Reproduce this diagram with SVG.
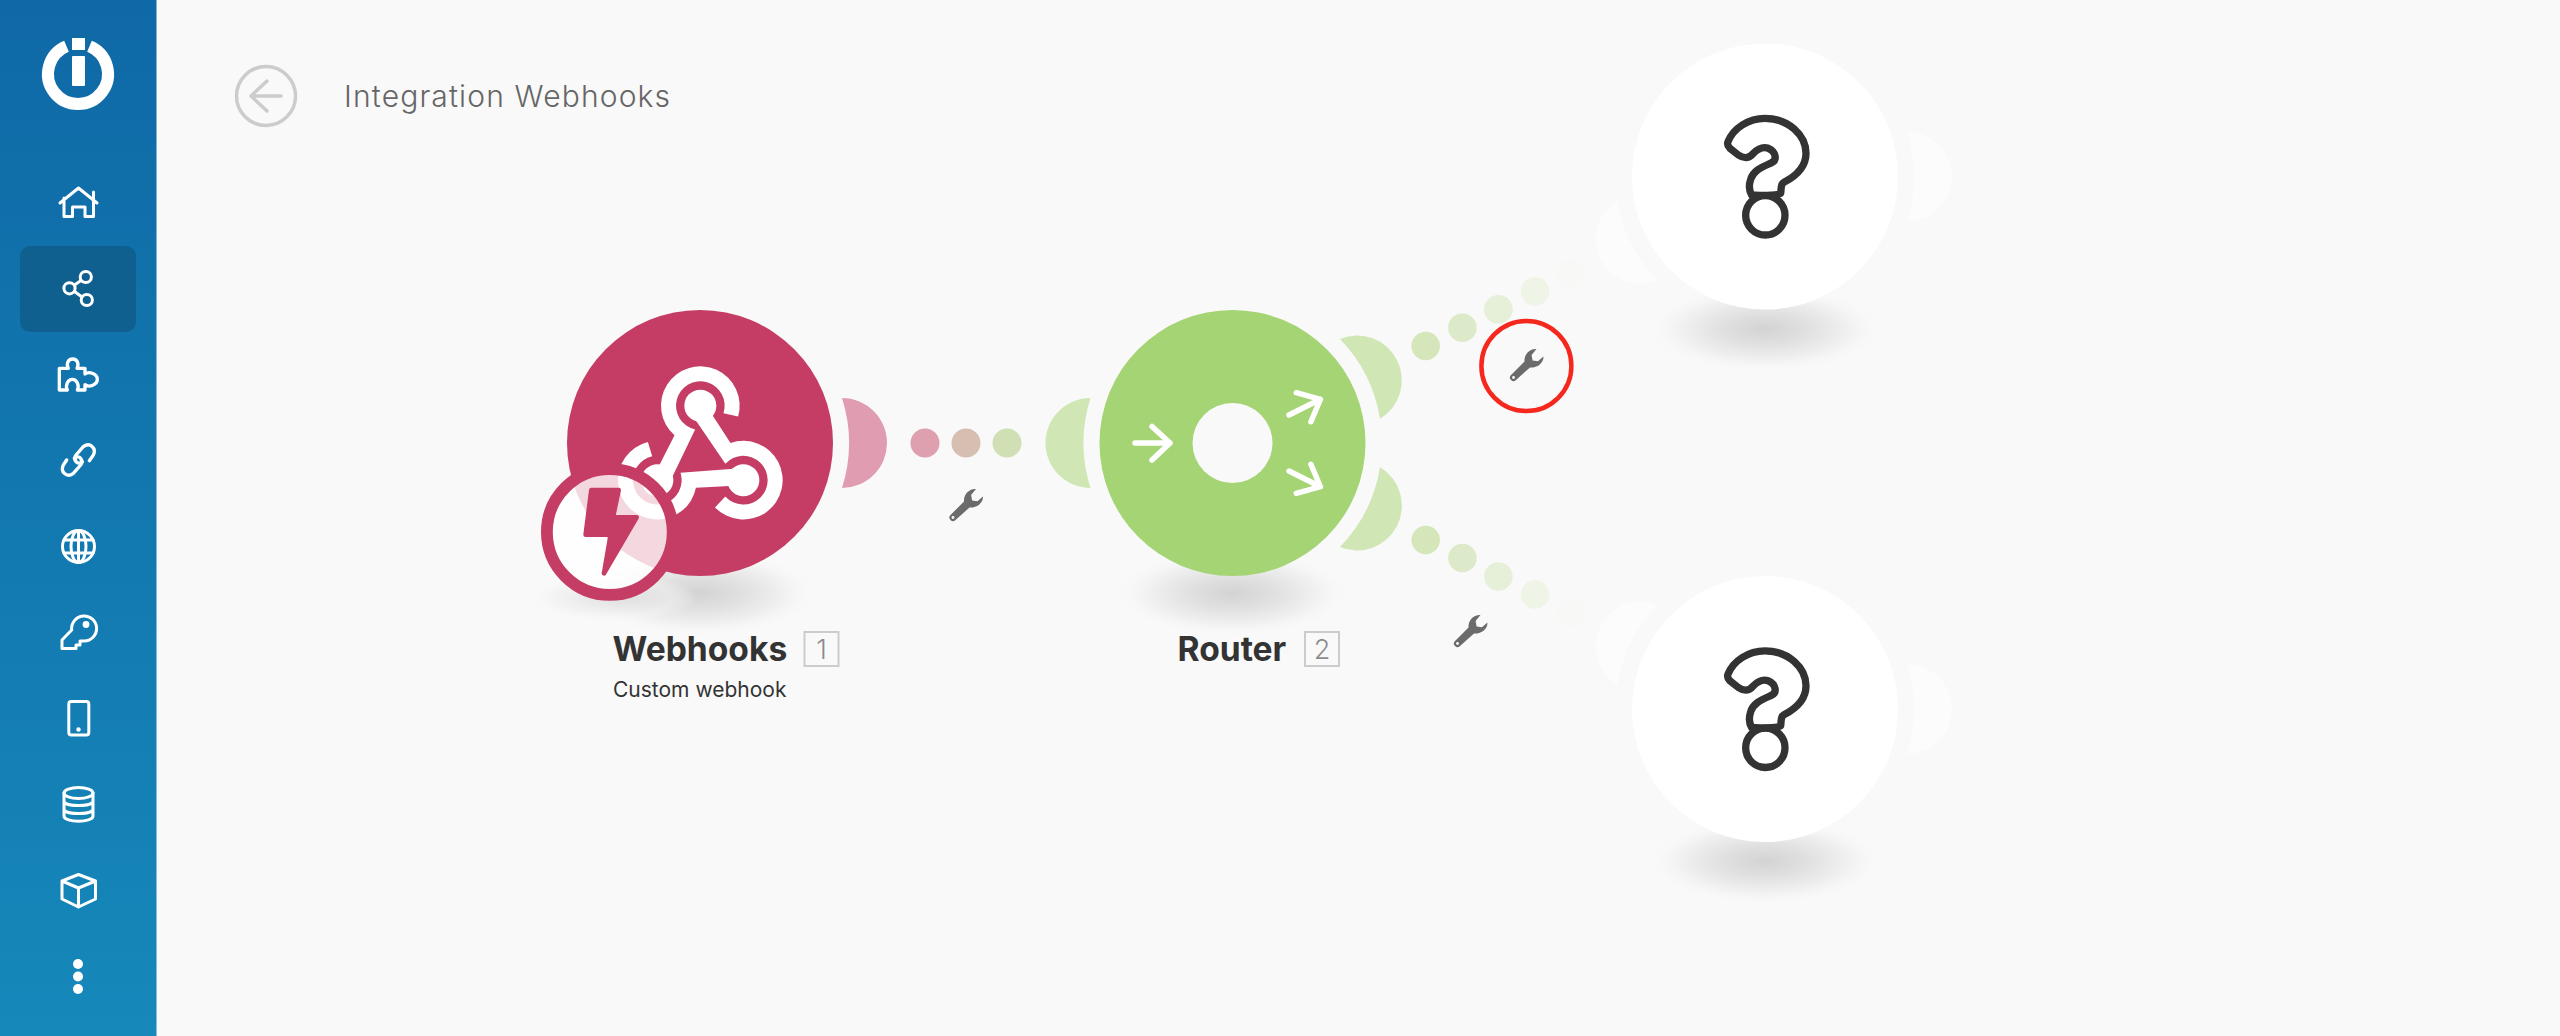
<svg xmlns="http://www.w3.org/2000/svg" xmlns:xlink="http://www.w3.org/1999/xlink" width="2560" height="1036" viewBox="0 0 2560 1036">
<style>
.ic{fill:none;stroke:#fff;stroke-width:3;stroke-linejoin:round;stroke-linecap:round}
.wf{fill:#fff}
.title{font-family:Inter,"Liberation Sans",sans-serif;font-weight:300;font-size:30px;fill:#666;letter-spacing:1.15px}
.name{font-family:Inter,"Liberation Sans",sans-serif;font-weight:700;font-size:33.6px;fill:#333}
.sub{font-family:Inter,"Liberation Sans",sans-serif;font-weight:400;font-size:21px;fill:#333}
.bx{fill:none;stroke:#ccc;stroke-width:2}
.bn{font-family:Inter,"Liberation Sans",sans-serif;font-weight:300;font-size:27px;fill:#8c8c8c;text-anchor:middle}
.arr{fill:none;stroke:#fff;stroke-width:5.5;stroke-linecap:round;stroke-linejoin:round}
.q{fill:none;stroke:#333;stroke-width:22;stroke-linejoin:round}
.gm{fill:#d0e6b5}
.wm{fill:#fcfcfc}
</style>
<defs>
<linearGradient id="side" x1="0" y1="0" x2="0" y2="1"><stop offset="0" stop-color="#0f69a6"/><stop offset="1" stop-color="#1688ba"/></linearGradient>
<radialGradient id="sh"><stop offset="0" stop-color="#d3d3d3"/><stop offset=".35" stop-color="#e0e0e0"/><stop offset=".7" stop-color="#f0f0f0"/><stop offset="1" stop-color="#f9f9f9" stop-opacity="0"/></radialGradient>
<g id="wrench"><path fill="#6b6b6b" d="M16.4-8.6L11-3.8 5.6-4.6 4.6-10 9.5-16C3-16.5-3-11-2.5-3.5L-16 10A3.5 3.5 0 0 0-11 15L3 2.5C10 3 17-2 16.4-8.6Z"/><circle cx="-13.5" cy="12.5" r="1.4" fill="#f9f9f9"/></g>
<path id="hook" fill="#fff" d="M654.4 349.7A118 118 0 1 0 463.6 406.1L405 521 447 551 525.4 388.3A73 73 0 1 1 610.5 339.4Z"/>
<g id="qm"><path class="q" d="M504 365C520 325 565 295 615 295C685 295 738 345 738 400C738 445 705 470 672 487C662 492 664 505 662 520C650 527 590 527 575 525C566 510 568 490 572 478C580 450 610 440 635 428C652 420 648 395 625 385C605 378 590 390 580 400C565 418 550 415 535 405L510 385C503 378 501 372 504 365Z"/><circle class="q" cx="616" cy="586" r="59"/></g>
</defs>
<rect width="2560" height="1036" fill="#f9f9f9"/>
<g id="sidebar">
<rect width="156.5" height="1036" fill="url(#side)"/>
<rect x="20" y="246" width="116" height="86" rx="10" fill="#0f5f8f"/>
<g id="logo"><path fill="none" stroke="#fff" stroke-width="12" d="M66.5 46.3A30 30 0 1 0 89.5 46.3"/><rect class="wf" x="72" y="38" width="13" height="12"/><rect class="wf" x="72" y="56" width="13" height="30" rx="1"/></g>
<path id="icon-home" class="ic" d="M60 203L78.5 188 97 203M64 198V216.5H72.5V207H85V216.5H93.5V198M93.5 192V199"/>
<g id="icon-share" class="ic"><circle cx="85.8" cy="277" r="5.6"/><circle cx="69.5" cy="288.3" r="5.6"/><circle cx="86.8" cy="300" r="5.6"/><path d="M81 280.5L74.5 285M74.5 291.5L82 297"/></g>
<path id="icon-puzzle" class="ic" transform="translate(40 340) scale(.33333)" style="stroke-width:10;stroke-linecap:butt" d="M58 85H85C78 72 84 57 98 57C112 57 118 72 111 85H135V102C148 92 172 102 172 118C172 134 148 144 135 134V150H112C118 138 112 118 97 118C82 118 76 138 82 150H58Z"/>
<g id="icon-link" class="ic" transform="translate(40 340) scale(.33333)" style="stroke-width:10"><path d="M148 362L160 345C170 325 150 305 130 320L108 345C98 358 112 378 127 365"/><path d="M80 360L70 375C60 395 80 415 100 400L122 375C132 362 118 342 103 355"/></g>
<g id="icon-globe" class="ic"><circle cx="78.5" cy="546.5" r="16"/><ellipse cx="78.5" cy="546.5" rx="7.5" ry="16"/><path d="M78.5 530.5V562.5M64 540H93M64 553H93"/></g>
<g id="icon-key"><path class="ic" d="M71.7 630A12.5 12.5 0 1 1 84 641H80V645H76V648.5H62V640Z"/><circle class="wf" cx="86" cy="624.5" r="3.4"/></g>
<g id="icon-phone"><rect class="ic" x="68.8" y="701.5" width="20" height="33.5" rx="2.5"/><circle class="wf" cx="78.5" cy="729.5" r="2.2"/></g>
<g id="icon-db" class="ic"><ellipse cx="78.5" cy="793" rx="14.5" ry="5.5"/><path d="M64 793V816C64 823 93 823 93 816V793M64 801C64 807 93 807 93 801M64 809C64 815 93 815 93 809"/></g>
<path id="icon-box" class="ic" d="M78.5 874.5L95.5 881V899L78.5 907 62 899V881ZM62 881L78.5 888 95.5 881M78.5 888V907"/>
<g id="icon-more" class="wf"><circle cx="78" cy="964" r="5"/><circle cx="78" cy="976.5" r="5"/><circle cx="78" cy="989" r="5"/></g>
</g>
<g id="header">
<circle cx="266" cy="96" r="29.5" fill="none" stroke="#ccc" stroke-width="3.5"/>
<path d="M281 96H251M267 81L251 96 267 111" fill="none" stroke="#ccc" stroke-width="3.5" stroke-linecap="round" stroke-linejoin="round"/>
<text class="title" x="344" y="107.3">Integration Webhooks</text>
</g>
<g id="connectors">
<circle cx="925" cy="443" r="14.5" fill="#dea0ae"/><circle cx="966" cy="443" r="14.5" fill="#d6bfb0"/><circle cx="1007" cy="443" r="14.5" fill="#d1dfb4"/>
<circle cx="1425.7" cy="346" r="14.3" fill="#d5e6bb"/><circle cx="1462.4" cy="327.7" r="14.3" fill="#ddeac9"/><circle cx="1498.4" cy="309.3" r="14.3" fill="#e6efd8"/><circle cx="1535" cy="291.5" r="14.3" fill="#eef4e6"/><circle cx="1571" cy="273" r="14.3" fill="#f8f9f6"/>
<circle cx="1425.7" cy="540" r="14.3" fill="#d5e6bb"/><circle cx="1462.4" cy="558" r="14.3" fill="#ddeac9"/><circle cx="1498.4" cy="576.5" r="14.3" fill="#e6efd8"/><circle cx="1535" cy="594.5" r="14.3" fill="#eef4e6"/><circle cx="1571" cy="613" r="14.3" fill="#f8f9f6"/>
<use href="#wrench" x="966.5" y="505"/>
<use href="#wrench" x="1527" y="365"/>
<use href="#wrench" x="1471" y="631"/>
<circle id="highlight" cx="1526.4" cy="366" r="45" fill="none" stroke="#f5281e" stroke-width="4.5"/>
</g>
<g id="node-webhooks">
<ellipse cx="700" cy="593" rx="118" ry="44" fill="url(#sh)"/>
<ellipse cx="612" cy="598" rx="85" ry="24" fill="url(#sh)" opacity=".55"/>
<path d="M842 398A45 45 0 0 1 842 488A149 149 0 0 0 842 398Z" fill="#e09db2"/>
<circle cx="700" cy="443" r="133" fill="#c53d64"/>
<g transform="translate(520 300) scale(.33333)">
<use href="#hook"/><use href="#hook" transform="rotate(120 541 466)"/><use href="#hook" transform="rotate(240 541 466)"/>
<circle cx="541" cy="317" r="48" fill="#fff"/><circle cx="670" cy="540.5" r="48" fill="#fff"/><circle cx="412" cy="540.5" r="48" fill="#fff"/>
</g>
<circle cx="609.8" cy="532" r="62.9" fill="#fff" fill-opacity=".8" stroke="#c53d64" stroke-width="11.8"/>
<path transform="translate(520 300) scale(.33333)" d="M214 570H296L279 652H350L252 820 272 704H197Z" fill="#c53d64" stroke="#c53d64" stroke-width="14" stroke-linejoin="round"/>
<text class="name" x="612.5" y="660.5">Webhooks</text>
<text class="sub" x="613" y="696.5">Custom webhook</text>
<rect class="bx" x="804.5" y="632" width="34" height="34"/>
<text class="bn" x="821.5" y="659">1</text>
</g>
<g id="node-router">
<ellipse cx="1232.5" cy="593" rx="118" ry="44" fill="url(#sh)"/>
<path class="gm" d="M1090.5 398A45 45 0 0 0 1090.5 488A149 149 0 0 1 1090.5 398Z"/>
<path class="gm" d="M1340 339A44.7 44.7 0 0 1 1380 418.7A149 149 0 0 0 1340 339Z"/>
<path class="gm" d="M1380 467.3A44.7 44.7 0 0 1 1340 547A149 149 0 0 0 1380 467.3Z"/>
<circle cx="1232.5" cy="443" r="133" fill="#a5d475"/>
<circle cx="1232.5" cy="443" r="40" fill="#f9f9f9"/>
<path class="arr" d="M1135 443H1170M1152 426.5L1170 443 1152 460"/>
<path class="arr" d="M1289 415L1320.4 399.3M1296.3 392.7L1320.4 399.3 1310.9 421.7"/>
<path class="arr" d="M1289 471L1320.4 486.7M1296.3 493.3L1320.4 486.7 1310.9 464.3"/>
<text class="name" x="1177.5" y="660.5">Router</text>
<rect class="bx" x="1305" y="632" width="34" height="34"/>
<text class="bn" x="1322" y="659">2</text>
</g>
<g id="node-unknown-1">
<ellipse cx="1765" cy="329" rx="118" ry="44" fill="url(#sh)"/>
<path class="wm" d="M1907 131.5A45 45 0 0 1 1907 221.5A149 149 0 0 0 1907 131.5Z"/>
<path class="wm" d="M1617.5 200.8A44.7 44.7 0 0 0 1657.5 280.5A149 149 0 0 1 1617.5 200.8Z"/>
<circle cx="1765" cy="176.5" r="133" fill="#fff"/>
<use href="#qm" transform="translate(1765 176.5) scale(.33333) translate(-615 -469.5)"/>
</g>
<g id="node-unknown-2">
<ellipse cx="1765" cy="861" rx="118" ry="44" fill="url(#sh)"/>
<path class="wm" d="M1907 664A45 45 0 0 1 1907 754A149 149 0 0 0 1907 664Z"/>
<path class="wm" d="M1657.5 605A44.7 44.7 0 0 0 1617.5 684.7A149 149 0 0 1 1657.5 605Z"/>
<circle cx="1765" cy="709" r="133" fill="#fff"/>
<use href="#qm" transform="translate(1765 709) scale(.33333) translate(-615 -469.5)"/>
</g>
</svg>
